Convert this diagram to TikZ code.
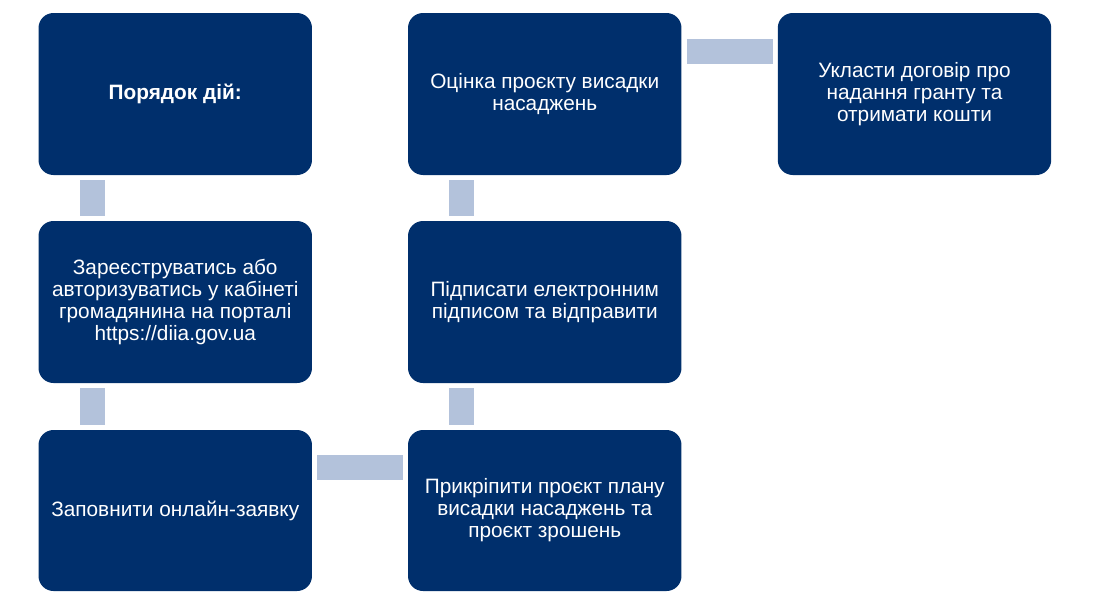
\documentclass[tikz,border=0pt]{standalone}
\usepackage{fontspec}
\setmainfont{Liberation Sans}
\definecolor{navy}{HTML}{002F6C}
\definecolor{barc}{HTML}{B3C2DB}
\begin{document}
\begin{tikzpicture}[x=0.75pt,y=-0.75pt,
  stepbox/.style={fill=navy, rounded corners=11.25pt, minimum width=205.1pt, minimum height=121.5pt,
    text=white, align=center, inner sep=0pt, font=\fontsize{15.6pt}{16.5pt}\selectfont},
  bar/.style={draw=barc, line width=18.75pt, shorten <=3.75pt, shorten >=3.75pt}]
\useasboundingbox (0,0) rectangle (1096,607);
\node[stepbox] (b1) at (175.25,94) {\textbf{Порядок дій:}};
\node[stepbox] (b2) at (175.25,302) {Зареєструватись або\\авторизуватись у кабінеті\\громадянина на порталі\\https://diia.gov.ua};
\node[stepbox, minimum height=120.75pt] (b3) at (175.25,510.5) {Заповнити онлайн-заявку};
\node[stepbox, minimum height=120.75pt] (b6) at (544.75,510.5) {Прикріпити проєкт плану\\висадки насаджень та\\проєкт зрошень};
\node[stepbox] (b5) at (544.75,302) {Підписати електронним\\підписом та відправити};
\node[stepbox] (b4) at (544.75,94) {Оцінка проєкту висадки\\насаджень};
\node[stepbox] (b7) at (914.5,94) {Укласти договір про\\надання гранту та\\отримати кошти};
\draw[bar] ([xshift=40.5pt]b1.south west) -- ([xshift=40.5pt]b2.north west);
\draw[bar] ([xshift=40.5pt]b2.south west) -- ([xshift=40.5pt]b3.north west);
\draw[bar] ([yshift=-28.1pt]b3.north east) -- ([yshift=-28.1pt]b6.north west);
\draw[bar] ([xshift=40.1pt]b6.north west) -- ([xshift=40.1pt]b5.south west);
\draw[bar] ([xshift=40.1pt]b5.north west) -- ([xshift=40.1pt]b4.south west);
\draw[bar] ([yshift=-28.9pt]b4.north east) -- ([yshift=-28.9pt]b7.north west);
\end{tikzpicture}
\end{document}
